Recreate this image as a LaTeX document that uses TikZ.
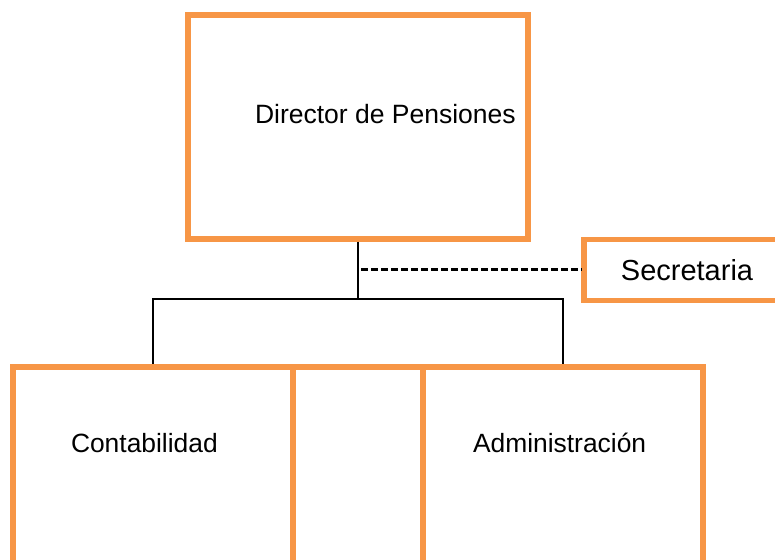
\documentclass[tikz,border=0pt]{standalone}
\usepackage{fontspec}
\setmainfont{Liberation Sans}
\definecolor{boxorange}{RGB}{247,150,70}
\tikzset{
  obox/.style={draw=boxorange, line width=5.7pt, rectangle, inner sep=0pt, outer sep=2.85pt},
  lbl/.style={inner sep=0pt, outer sep=0pt, anchor=base west, font=\fontsize{26.5}{30}\selectfont},
  conn/.style={draw=black, line width=2pt},
  dashconn/.style={draw=black, line width=3pt, dash pattern=on 7.3pt off 2.7pt}
}
\begin{document}
\begin{tikzpicture}[x=1pt, y=-1pt]
  \useasboundingbox (0,0) rectangle (775,559);
  \clip (0,0) rectangle (775,559);
  % boxes
  \node[obox, minimum width=340pt, minimum height=224pt] (dir) at (358,127) {};
  \node[lbl] (dirtxt) at (255,123) {Director de Pensiones};
  \node[obox, minimum width=206pt, minimum height=61pt,
        font=\fontsize{29}{33}\selectfont] (sec) at (687,270) {Secretaria};
  \node[obox, minimum width=280pt, minimum height=240pt] (cont) at (153,487) {};
  \node[obox, minimum width=130pt, minimum height=240pt] (mid) at (358,487) {};
  \node[obox, minimum width=280pt, minimum height=240pt] (adm) at (563,487) {};
  \node[lbl, font=\fontsize{26.4}{30}\selectfont] (conttxt) at (71,452) {Contabilidad};
  \node[lbl, font=\fontsize{26.4}{30}\selectfont] (admtxt) at (473,452) {Administración};
  % connectors
  \coordinate (bus) at (358,299);
  \coordinate (dsh) at (361,269);
  \draw[conn] (dir.south) -- (bus);
  \draw[conn] (cont.north) -- (cont.north |- bus) -- (adm.north |- bus) -- (adm.north);
  \draw[dashconn] (dsh) -- (sec.west |- dsh);
\end{tikzpicture}
\end{document}
